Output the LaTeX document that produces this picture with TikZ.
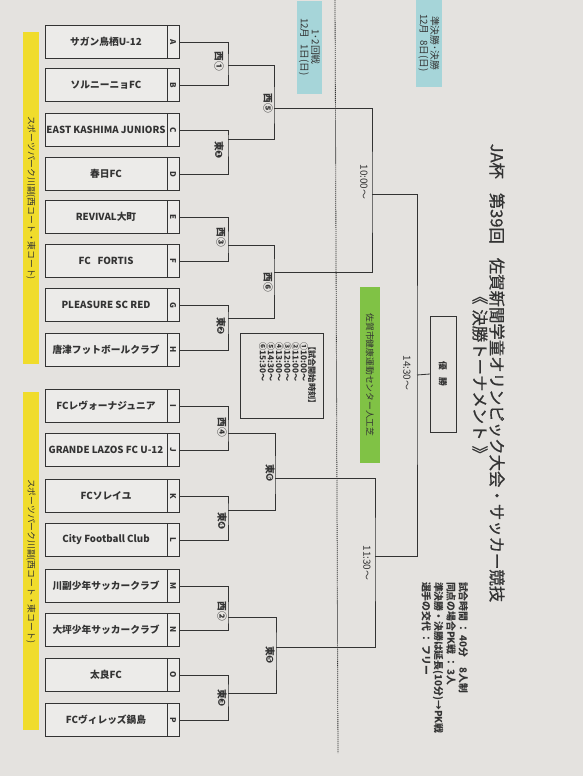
\documentclass[tikz,border=0pt]{standalone}
\usepackage{fontspec}
\usepackage{graphicx}
\setmainfont{Noto Sans CJK JP}
\newfontfamily\dejavu{DejaVu Sans}
\newfontfamily\titlefont[FakeBold=0.8]{Noto Sans CJK JP}
\usetikzlibrary{positioning}
\definecolor{paper}{HTML}{E4E2DF}
\definecolor{ink}{HTML}{333333}
\definecolor{barYellow}{HTML}{F0DC2C}
\definecolor{dayCyan}{HTML}{A6D5D9}
\definecolor{fieldGreen}{HTML}{80C245}
\newcommand{\kuro}[1]{{\dejavu #1}}

\begin{document}
\begin{tikzpicture}[x=0.03cm, y=-0.03cm,
  every node/.style={outer sep=0pt, text=ink},
  teambox/.style={draw=ink, line width=0.8pt, fill=paper!70!white, minimum width=3.66cm, minimum height=0.98cm, inner sep=0pt, font=\fontsize{8.3}{10}\selectfont\bfseries},
  letterbox/.style={draw=ink, line width=0.8pt, fill=paper!70!white, minimum width=0.36cm, minimum height=0.98cm, inner sep=0pt, font=\fontsize{6.8}{7}\selectfont\bfseries},
  link/.style={draw=ink, line width=0.7pt},
  matchlbl/.style={rotate=-90, inner sep=0.5pt, font=\fontsize{8.3}{9}\selectfont\bfseries},
  timelbl/.style={rotate=-90, inner sep=1pt, font=\fontsize{8.5}{9}\selectfont},
  sidebar/.style={rotate=-90, fill=barYellow, minimum height=0.48cm, inner sep=0pt, font=\fontsize{7.5}{9}\selectfont},
  daytag/.style={rotate=-90, fill=dayCyan, align=center, inner sep=0pt, font=\fontsize{8.3}{9.2}\selectfont},
]
  \useasboundingbox (0,0) rectangle (583,776);
  \fill[paper] (0,0) rectangle (583,776);
  % Venue bars
  \node[sidebar, minimum width=9.96cm] (venue1) at (31,198) {スポーツパーク川副(西コート・東コート)};
  \node[sidebar, minimum width=10.14cm] (venue2) at (31,561) {スポーツパーク川副(西コート・東コート)};
  % Teams
  \foreach \id/\y/\team in {A/42/サガン鳥栖U-12, B/85/ソルニーニョFC, C/130/EAST KASHIMA JUNIORS, D/174/春日FC,
      E/217/REVIVAL大町, F/261/FC\hspace{0.7em}FORTIS, G/305/PLEASURE SC RED, H/350/唐津フットボールクラブ,
      I/406/FCレヴォーナジュニア, J/450/GRANDE LAZOS FC U-12, K/496/FCソレイユ, L/540/City Football Club,
      M/586/川副少年サッカークラブ, N/630/大坪少年サッカークラブ, O/675/太良FC, P/720/FCヴィレッズ鍋島}{
    \node[teambox] (n\id) at (106,\y) {\team};
    \node[letterbox, right=0pt of n\id] (\id) {\rotatebox{-90}{\id}};
  }
  % Junctions
  \foreach \j/\x/\y in {AB/228/65, CD/228/139, EF/228/245, GH/228/318, IJ/228/433, KL/228/510, MN/228/617, OP/228/693,
      AD/274/108, EH/274/272, IL/275/478, MP/276/647, AH/372/194, IP/375/556, AP/417/375}
    \coordinate (j\j) at (\x,\y);
  % Bracket lines
  \foreach \a/\b in {A/B, C/D, E/F, G/H, I/J, K/L, M/N, O/P}
    \draw[link] (\a.east) -| (j\a\b) |- (\b.east);
  \foreach \a/\b/\j in {AB/CD/AD, EF/GH/EH, IJ/KL/IL, MN/OP/MP, AD/EH/AH, IL/MP/IP, AH/IP/AP}
    \draw[link] (j\a) -| (j\j) |- (j\b);
  % Final
  \node[draw=ink, line width=0.8pt, minimum width=0.78cm, minimum height=3.48cm, inner sep=0pt,
    font=\fontsize{7.5}{8}\selectfont\bfseries] (final) at (443,374) {\rotatebox{-90}{優\hspace{0.8em}勝}};
  \draw[link] (jAP) -- (final.west);
  % Match numbers
  \foreach \j/\x/\y/\lbl in {AB/219/61/西①, CD/219/150/東\kuro{❶}, EF/221/237/西③, GH/221/326/東\kuro{❷},
      IJ/222/427/西④, KL/222/521/東\kuro{❹}, MN/222/611/西②, OP/222/698/東\kuro{❸},
      AD/268/103/西⑤, EH/268/282/西⑥, IL/270/473/東\kuro{❻}, MP/270/655/東\kuro{❺}}
    \node[matchlbl] (m\j) at (\x,\y) {\lbl};
  % Kick-off times
  \node[timelbl] (tAH) at (364,182) {10:00〜};
  \node[timelbl] (tIP) at (367,563) {11:30〜};
  \node[timelbl] (tAP) at (407,373) {14:30〜};
  % Divider
  \coordinate (divtop) at (335,0);
  \coordinate (divbot) at (338,753);
  \draw[ink, line width=0.7pt, dash pattern=on 1pt off 0.7pt] (divtop) -- (divbot);
  % Day tags
  \node[daytag, minimum width=2.79cm, minimum height=0.75cm] (day1) at (309.5,47) {1･2回戦\\12月\hspace{0.6em}1日(日)};
  \node[daytag, minimum width=2.61cm, minimum height=0.78cm] (day2) at (429,43) {準決勝･決勝\\12月\hspace{0.6em}8日(日)};
  \node[rotate=-90, fill=fieldGreen, minimum width=5.28cm, minimum height=0.6cm, inner sep=0pt,
    font=\fontsize{7.5}{9}\selectfont] (field) at (370,375) {佐賀市健康運動センター人工芝};
  % Schedule
  \node[draw=ink, line width=0.6pt, rotate=-90, minimum width=2.55cm, minimum height=2.49cm] (sched) at (281.5,375.5) {};
  \node[rotate=-90, anchor=north west, align=left, inner sep=0pt,
    font=\fontsize{7}{7}\selectfont\bfseries] (schedtxt) at (316,342)
    {【試合開始時刻】\\①10:00〜\\②11:00〜\\③12:00〜\\④13:00〜\\⑤14:30〜\\⑥15:30〜};
  % Title
  \node[rotate=-90, font=\fontsize{14}{16}\titlefont] (title) at (497,373)
    {JA杯\hspace{0.85em}第39回\hspace{0.85em}佐賀新聞学童オリンピック大会・サッカー競技};
  \node[rotate=-90, font=\fontsize{14}{16}\titlefont] (subtitle) at (480,375) {《\hspace{0.3em}決勝トーナメント\hspace{0.3em}》};
  % Rules
  \node[rotate=-90, anchor=north west, align=left, inner sep=0pt,
    font=\fontsize{8.4}{10.5}\selectfont\bfseries] (rules) at (468,582)
    {試合時間 ： 40分　8人制\\同点の場合PK戦 ： 3人\\準決勝・決勝は延長(10分)→PK戦\\選手の交代 ： フリー};
\end{tikzpicture}
\end{document}
